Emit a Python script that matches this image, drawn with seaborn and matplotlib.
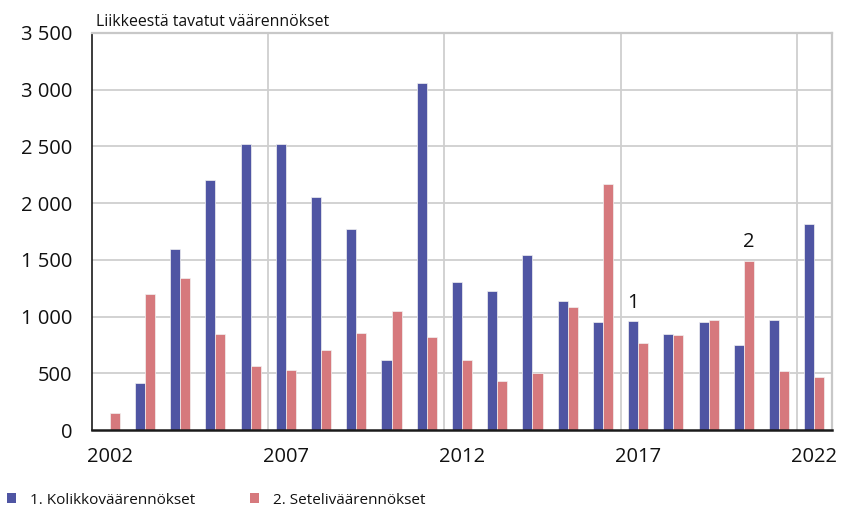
import numpy as np
import pandas as pd
import matplotlib
matplotlib.use("Agg")
import matplotlib.pyplot as plt
from matplotlib.patches import Patch
from matplotlib.ticker import FuncFormatter, FixedLocator
import seaborn as sns

# Counterfeits withdrawn from circulation, by year
years = [str(y) for y in range(2002, 2023)]
coins = [np.nan, 415, 1600, 2200, 2525, 2525, 2058, 1768, 620, 3055, 1302,
         1227, 1542, 1138, 950, 962, 847, 950, 747, 972, 1818]
notes = [152, 1200, 1340, 847, 567, 530, 708, 859, 1050, 821, 620,
         432, 505, 1086, 2172, 771, 835, 974, 1492, 518, 470]
series_names = ["1. Kolikkoväärennökset", "2. Seteliväärennökset"]
title = "Liikkeestä tavatut väärennökset"
tick_years = ["2002", "2007", "2012", "2017", "2022"]
footnotes = [("1", "2017", 0), ("2", "2020", 1)]

blue = "#4F55A3"
pink = "#D6797D"
grid_c = "#CFCFCF"

df = pd.DataFrame({
    "year": years * 2,
    "count": coins + notes,
    "series": [series_names[0]] * len(years) + [series_names[1]] * len(years),
}).dropna()

sns.set_theme(style="white")
plt.rcParams["font.family"] = ["Open Sans", "DejaVu Sans"]

fig = plt.figure(figsize=(8.45, 5.09), dpi=100)
ax = fig.add_axes([92 / 845, 1 - 430 / 509, (832 - 92) / 845, (430 - 33) / 509])

bar_w = 0.57
sns.barplot(data=df, x="year", y="count", hue="series", order=years,
            hue_order=series_names, palette=[blue, pink], width=bar_w,
            edgecolor="#F2F2F2", linewidth=0.5, saturation=1, ax=ax,
            legend=False, errorbar=None, zorder=3)

ax.set_xlim(-0.5, len(years) - 0.5)
ax.set_ylim(0, 3500)
ax.set_xlabel("")
ax.set_ylabel("")

# horizontal grid
for v in range(500, 3500, 500):
    ax.axhline(v, color=grid_c, lw=1.3, zorder=1)
# vertical grid at every fifth category boundary
for b in [4.5, 9.5, 14.5, 19.5]:
    ax.axvline(b, color=grid_c, lw=1.3, zorder=1)

ax.set_yticks(range(0, 3501, 500))
ax.yaxis.set_major_formatter(FuncFormatter(lambda v, p: f"{int(v):,}".replace(",", " ")))
ax.tick_params(axis="y", length=0, pad=14, labelsize=14.5, colors="#111111")

ax.set_xticks([years.index(t) for t in tick_years])
ax.set_xticklabels(tick_years)
ax.tick_params(axis="x", which="major", length=0, pad=12, labelsize=14.5, colors="#111111")
ax.xaxis.set_minor_locator(FixedLocator([i + 0.5 for i in range(len(years) - 1)]))
ax.tick_params(axis="x", which="minor", direction="in", length=4, width=1.2, color="#222222")

for s in ["left", "bottom"]:
    ax.spines[s].set_color("#1A1A1A")
ax.spines["left"].set_linewidth(1.2)
ax.spines["bottom"].set_linewidth(1.8)
for s in ["top", "right"]:
    ax.spines[s].set_color("#C8C8C8")
    ax.spines[s].set_linewidth(1.6)
for s in ax.spines.values():
    s.set_zorder(4)

# footnote markers above bars
vals = [coins, notes]
for label, yr, k in footnotes:
    i = years.index(yr)
    xpos = i + (k - 0.5) * bar_w / 2
    ax.annotate(label, xy=(xpos, vals[k][i]), xytext=(0, 6), textcoords="offset points",
                ha="center", va="bottom", fontsize=14.5, color="#111111")

fig.text(96 / 845, 1 - 26.5 / 509, title, fontsize=11.4, color="#111111", va="baseline")

for name, col, x0 in [(series_names[0], blue, 7 / 845), (series_names[1], pink, 250 / 845)]:
    fig.legend(handles=[Patch(facecolor=col, edgecolor="none")], labels=[name],
               loc="center left", bbox_to_anchor=(x0, 1 - 500 / 509), frameon=False,
               borderpad=0, borderaxespad=0, handlelength=0.62, handleheight=0.62,
               handletextpad=0.9, fontsize=11, labelcolor="#111111")

fig.savefig("out.png", dpi=100)
